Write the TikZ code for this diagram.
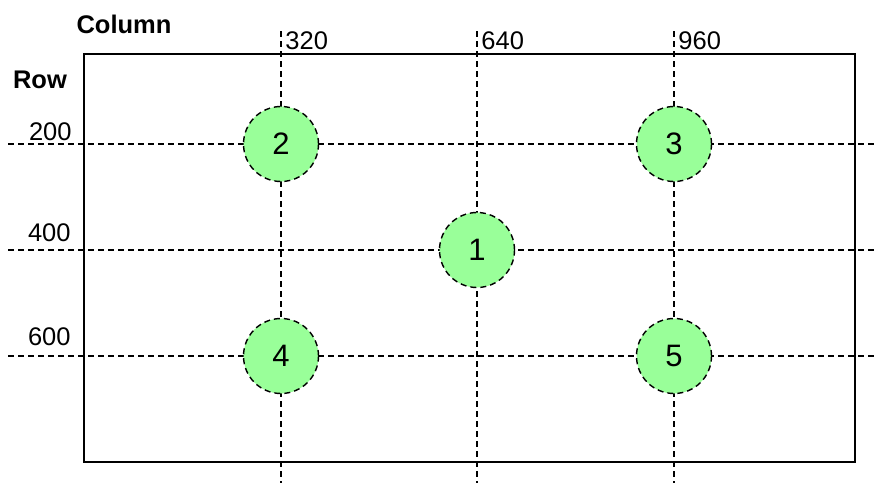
\documentclass[tikz,border=0pt]{standalone}
\usepackage{fontspec}
\setmainfont{Liberation Sans}
\usetikzlibrary{positioning}
\definecolor{spotgreen}{RGB}{153,255,153}

\begin{document}
\begin{tikzpicture}[x=0.5pt, y=-0.5pt,
    gridline/.style={dash pattern=on 3pt off 2pt, line width=0.7pt},
    spot/.style={circle, draw, fill=spotgreen, dash pattern=on 3pt off 2pt,
        line width=0.7pt, minimum size=37.5pt, inner sep=0pt,
        font=\fontsize{15.5}{18}\selectfont},
    ticklabel/.style={inner sep=0pt, font=\fontsize{12.75}{15}\selectfont},
    axistitle/.style={inner sep=0pt, font=\fontsize{12.75}{15}\selectfont\bfseries}]
    \useasboundingbox (0,0) rectangle (874,483);
    % Frame
    \draw[line width=1pt] (84,54) rectangle (855,462);
    % Grid ends
    \coordinate (top320) at (281,31);  \coordinate (bot320) at (281,483);
    \coordinate (top640) at (477,31);  \coordinate (bot640) at (477,483);
    \coordinate (top960) at (674,31);  \coordinate (bot960) at (674,483);
    \coordinate (left200) at (8,144);  \coordinate (right200) at (874,144);
    \coordinate (left400) at (8,250);  \coordinate (right400) at (874,250);
    \coordinate (left600) at (8,356);  \coordinate (right600) at (874,356);
    % Dashed grid
    \draw[gridline] (top320) -- (bot320);
    \draw[gridline] (top640) -- (bot640);
    \draw[gridline] (top960) -- (bot960);
    \draw[gridline] (left200) -- (right200);
    \draw[gridline] (left400) -- (right400);
    \draw[gridline] (left600) -- (right600);
    % Spots
    \node[spot] (s1) at (477,250) {1};
    \node[spot] (s2) at (281,144) {2};
    \node[spot] (s3) at (674,144) {3};
    \node[spot] (s4) at (281,356) {4};
    \node[spot] (s5) at (674,356) {5};
    % Axis titles
    \node[axistitle] (coltitle) at (124,24) {Column};
    \node[axistitle] (rowtitle) at (40,80) {Row};
    % Column ticks
    \node[ticklabel, anchor=west] (col320) at (285,41) {320};
    \node[ticklabel, anchor=west] (col640) at (481,41) {640};
    \node[ticklabel, anchor=west] (col960) at (678,41) {960};
    % Row ticks
    \node[ticklabel, anchor=east] (row200) at (72,132) {200};
    \node[ticklabel, anchor=east] (row400) at (71,233) {400};
    \node[ticklabel, anchor=east] (row600) at (71,337) {600};
\end{tikzpicture}
\end{document}
